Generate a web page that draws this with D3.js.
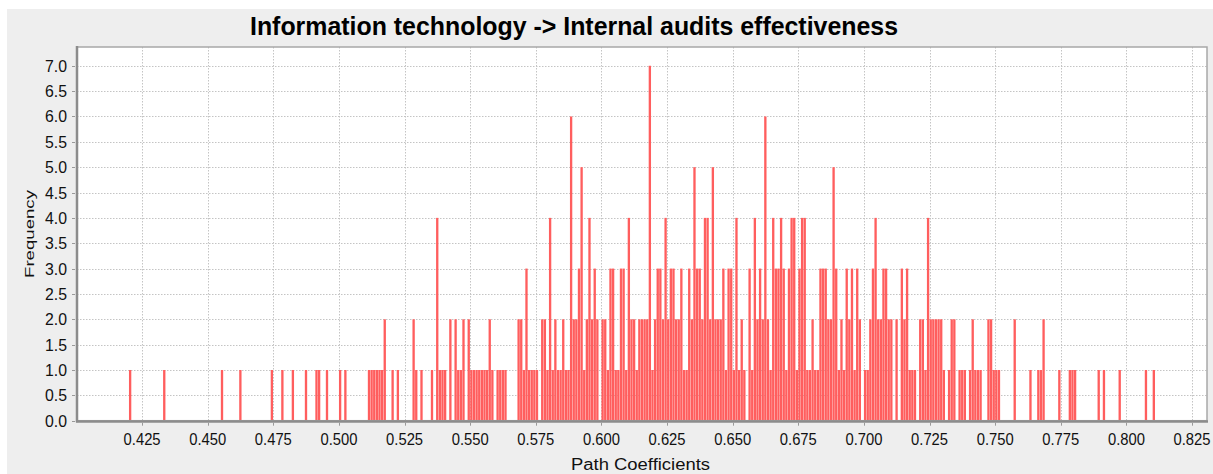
<!DOCTYPE html>
<html>
<head>
<meta charset="utf-8">
<script src="https://cdn.jsdelivr.net/npm/d3@7"></script>
<style>
  body { margin: 0; background: #fff; }
  text { font-family: "Liberation Sans", Arial, sans-serif; fill: #111; }
</style>
</head>
<body>
<svg width="1213" height="474"></svg>
<script>
// bootstrap frequencies, one value per 0.001 wide bin, in blocks of 50 bins
var binWidth = 0.001;
var freq040 = [0,0,0,0,0,0,0,0,0,0, 0,0,0,0,0,0,0,0,0,0, 1,0,0,0,0,0,0,0,0,0, 0,0,0,1,0,0,0,0,0,0, 0,0,0,0,0,0,0,0,0,0];
var freq045 = [0,0,0,0,0,1,0,0,0,0, 0,0,1,0,0,0,0,0,0,0, 0,0,0,0,1,0,0,0,1,0, 0,0,1,0,0,0,0,1,0,0, 0,1,1,0,0,1,0,0,0,0];
var freq050 = [1,0,1,0,0,0,0,0,0,0, 0,1,1,1,1,1,1,2,0,0, 1,0,1,0,0,0,0,0,2,1, 0,1,0,0,0,1,0,4,1,1, 1,0,2,0,2,1,1,2,0,2];
var freq055 = [1,1,1,1,1,1,1,2,1,0, 1,1,1,1,0,0,0,0,2,2, 1,3,1,1,1,1,0,2,2,1, 4,1,2,1,1,2,1,1,6,2, 2,3,5,1,2,4,2,3,2,0];
var freq060 = [2,2,1,3,3,1,1,3,3,1, 4,2,2,1,2,2,2,2,7,1, 2,3,3,2,4,2,3,3,2,2, 3,1,1,3,2,5,3,3,2,4, 4,2,5,2,2,2,3,1,3,3];
var freq065 = [1,4,1,2,1,0,3,1,4,2, 3,2,6,2,1,4,3,3,4,3, 1,3,4,4,1,3,4,4,1,1, 2,1,1,3,3,3,2,2,5,3, 1,2,1,3,2,3,1,3,2,0];
var freq070 = [1,1,2,3,4,2,2,3,3,2, 2,0,2,0,3,2,3,1,1,1, 0,2,2,1,4,2,2,2,2,2, 1,0,1,2,2,0,1,1,1,0, 1,2,1,1,1,0,0,2,2,1];
var freq075 = [1,1,0,0,0,0,0,2,0,0, 0,0,0,1,0,0,1,1,2,0, 0,0,0,0,1,0,0,0,1,1, 1,0,0,0,0,0,0,0,0,1, 0,1,0,0,0,0,0,1,0,0];
var freq080 = [0,0,0,0,0,0,0,1,0,0, 1,0,0,0,0,0,0,0,0,0];
var blockStarts = [0.40, 0.45, 0.50, 0.55, 0.60, 0.65, 0.70, 0.75, 0.80];

var xTicks = d3.range(0.425, 0.8251, 0.025);
var yTicks = d3.range(0, 7.01, 0.5);

var title = "Information technology -> Internal audits effectiveness";
var xLabel = "Path Coefficients";
var yLabel = "Frequency";

var svg = d3.select("svg");

// build bins from the blocks
var bins = [];
[freq040, freq045, freq050, freq055, freq060, freq065, freq070, freq075, freq080].forEach(function(block, b) {
  block.forEach(function(n, i) {
    if (n > 0) bins.push({x0: blockStarts[b] + i * binWidth, n: n});
  });
});

var plotL = 77, plotR = 1207, plotT = 47, plotB = 420.7;

var x = d3.scaleLinear().domain([0.4002, 0.8307]).range([plotL, plotR]);
var y = d3.scaleLinear().domain([0, 7.37]).range([plotB, plotT]);

// grey panel and white plot area
svg.append("rect")
    .attr("x", 7).attr("y", 9)
    .attr("width", 1206).attr("height", 465)
    .attr("fill", "#eeeeee");

svg.append("rect")
    .attr("x", plotL).attr("y", plotT)
    .attr("width", plotR - plotL).attr("height", plotB - plotT)
    .attr("fill", "#fff");

var grid = svg.append("g")
    .attr("stroke", "#c4c4c4")
    .attr("stroke-width", 1)
    .attr("stroke-dasharray", "1.5,1.5");

grid.selectAll("line.h")
  .data(yTicks.slice(1))
  .enter().append("line")
    .attr("class", "h")
    .attr("x1", plotL).attr("x2", plotR)
    .attr("y1", function(d) { return Math.round(y(d)) + 0.5; })
    .attr("y2", function(d) { return Math.round(y(d)) + 0.5; });

grid.selectAll("line.v")
  .data(xTicks)
  .enter().append("line")
    .attr("class", "v")
    .attr("y1", plotT).attr("y2", plotB)
    .attr("x1", function(d) { return Math.round(x(d)) + 0.5; })
    .attr("x2", function(d) { return Math.round(x(d)) + 0.5; });

// histogram bars
svg.append("g")
    .attr("class", "bars")
  .selectAll("rect")
  .data(bins)
  .enter().append("rect")
    .attr("x", function(d) { return x(d.x0); })
    .attr("width", function(d) { return x(d.x0 + binWidth) - x(d.x0) - 0.3; })
    .attr("y", function(d) { return y(d.n); })
    .attr("height", function(d) { return plotB - y(d.n); })
    .attr("fill", "#ff5e5e");

// plot frame
svg.append("rect")
    .attr("x", plotL).attr("y", plotT)
    .attr("width", plotR - plotL).attr("height", plotB - plotT)
    .attr("fill", "none")
    .attr("stroke", "#a8a8a8")
    .attr("stroke-width", 1.5);

svg.append("line")
    .attr("x1", plotL).attr("x2", plotL)
    .attr("y1", plotT - 1).attr("y2", plotB + 1.5)
    .attr("stroke", "#8c8c8c").attr("stroke-width", 2.5);

svg.append("line")
    .attr("x1", plotL - 1).attr("x2", plotR + 1)
    .attr("y1", plotB + 0.8).attr("y2", plotB + 0.8)
    .attr("stroke", "#8c8c8c").attr("stroke-width", 2.5);

// x axis ticks
var xAxis = svg.append("g");
xAxis.selectAll("line")
  .data(xTicks)
  .enter().append("line")
    .attr("x1", function(d) { return Math.round(x(d)) + 0.5; })
    .attr("x2", function(d) { return Math.round(x(d)) + 0.5; })
    .attr("y1", plotB + 2).attr("y2", plotB + 5)
    .attr("stroke", "#999");

xAxis.selectAll("text")
  .data(xTicks)
  .enter().append("text")
    .attr("x", function(d) { return x(d); })
    .attr("y", 445)
    .attr("text-anchor", "middle")
    .attr("font-size", 17)
    .attr("textLength", 37)
    .attr("lengthAdjust", "spacingAndGlyphs")
    .text(function(d) { return d3.format(".3f")(d); });

// y axis ticks
var yAxis = svg.append("g");
yAxis.selectAll("line")
  .data(yTicks)
  .enter().append("line")
    .attr("x1", plotL - 5).attr("x2", plotL - 2)
    .attr("y1", function(d) { return Math.round(y(d)) + 0.5; })
    .attr("y2", function(d) { return Math.round(y(d)) + 0.5; })
    .attr("stroke", "#999");

yAxis.selectAll("text")
  .data(yTicks)
  .enter().append("text")
    .attr("x", 67)
    .attr("y", function(d) { return y(d) + 6; })
    .attr("text-anchor", "end")
    .attr("font-size", 16.5)
    .attr("textLength", 22)
    .attr("lengthAdjust", "spacingAndGlyphs")
    .text(function(d) { return d3.format(".1f")(d); });

// titles
svg.append("text")
    .attr("x", 250).attr("y", 35)
    .attr("font-size", 25)
    .attr("font-weight", "bold")
    .attr("textLength", 648)
    .attr("lengthAdjust", "spacingAndGlyphs")
    .style("fill", "#000")
    .text(title);

svg.append("text")
    .attr("x", 571).attr("y", 470)
    .attr("font-size", 16)
    .attr("textLength", 139)
    .attr("lengthAdjust", "spacingAndGlyphs")
    .text(xLabel);

svg.append("text")
    .attr("transform", "translate(34,278) rotate(-90)")
    .attr("font-size", 12)
    .attr("textLength", 88)
    .attr("lengthAdjust", "spacingAndGlyphs")
    .text(yLabel);
</script>
</body>
</html>
